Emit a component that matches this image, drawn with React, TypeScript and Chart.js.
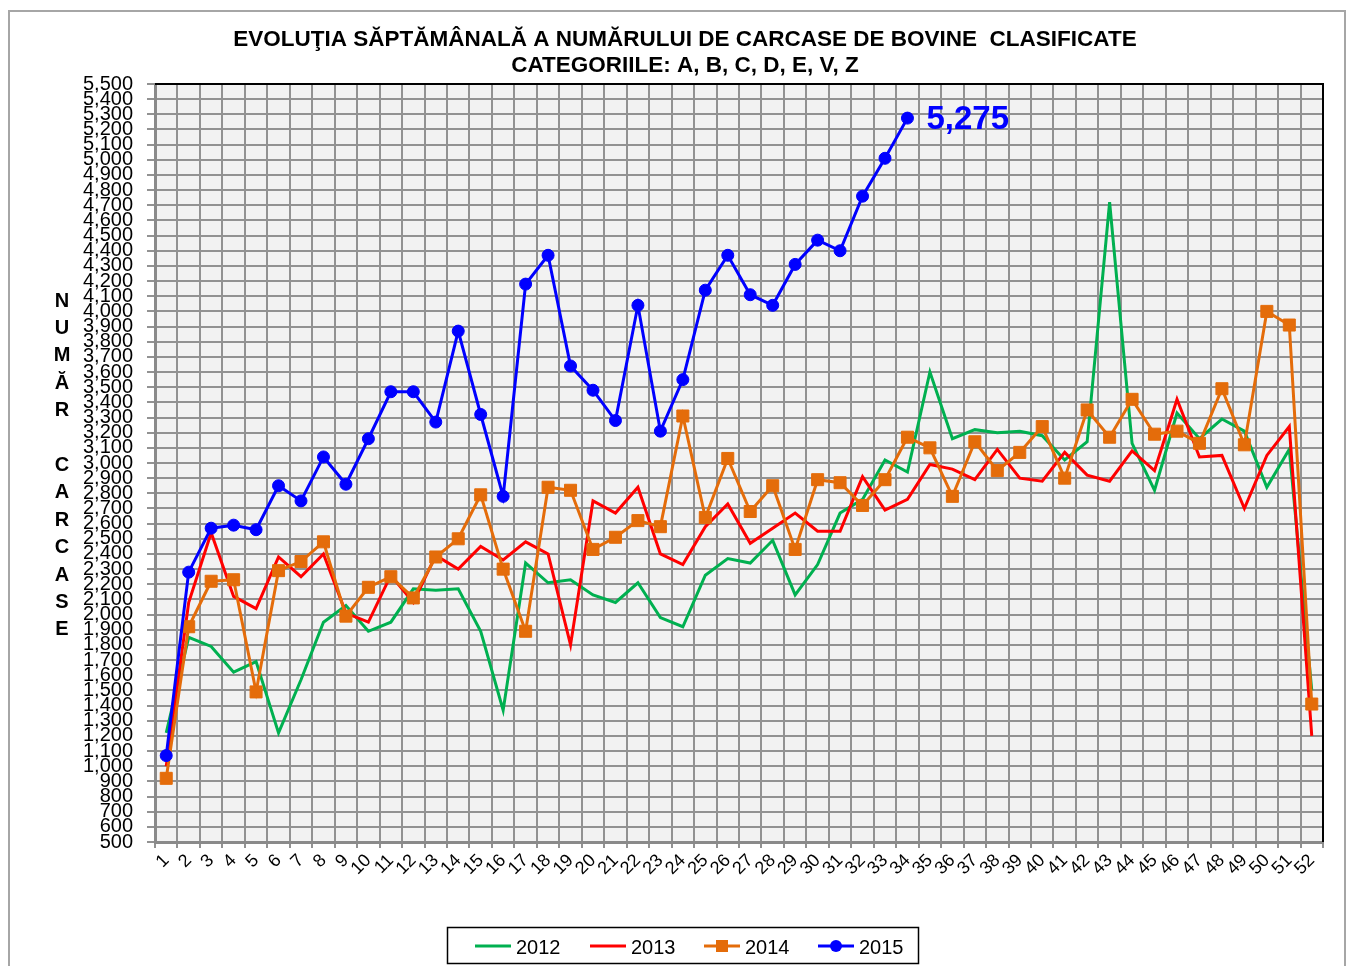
import React, { useEffect, useRef } from 'react';
import { Chart, registerables } from 'chart.js';

Chart.register(...registerables);

const weeks = ['1','2','3','4','5','6','7','8','9','10','11','12','13','14','15','16','17','18','19','20','21','22','23','24','25','26','27','28','29','30','31','32','33','34','35','36','37','38','39','40','41','42','43','44','45','46','47','48','49','50','51','52'];

const y2012 = [1220, 1850, 1790, 1620, 1690, 1220, 1570, 1950, 2060, 1890, 1950, 2170, 2160, 2170, 1890, 1370, 2340, 2210, 2230, 2130, 2080, 2210, 1980, 1920, 2260, 2370, 2340, 2490, 2130, 2330, 2670, 2760, 3020, 2940, 3600, 3160, 3220, 3200, 3210, 3180, 3020, 3140, 4720, 3130, 2820, 3330, 3160, 3290, 3210, 2840, 3090, 1500];

const y2013 = [1000, 2080, 2540, 2120, 2040, 2380, 2250, 2400, 2010, 1950, 2260, 2080, 2390, 2300, 2450, 2360, 2480, 2400, 1800, 2750, 2670, 2840, 2400, 2330, 2580, 2730, 2470, 2570, 2670, 2550, 2550, 2910, 2690, 2760, 2990, 2960, 2890, 3090, 2900, 2880, 3070, 2920, 2880, 3080, 2950, 3420, 3040, 3050, 2700, 3050, 3240, 1200];

const y2014 = [920, 1920, 2220, 2230, 1490, 2290, 2350, 2480, 1990, 2180, 2250, 2110, 2380, 2500, 2790, 2300, 1890, 2840, 2820, 2430, 2510, 2620, 2580, 3310, 2640, 3030, 2680, 2850, 2430, 2890, 2870, 2720, 2890, 3170, 3100, 2780, 3140, 2950, 3070, 3240, 2900, 3350, 3170, 3420, 3190, 3210, 3130, 3490, 3120, 4000, 3910, 1410];

const y2015 = [1070, 2280, 2570, 2590, 2560, 2850, 2750, 3040, 2860, 3160, 3470, 3470, 3270, 3870, 3320, 2780, 4180, 4370, 3640, 3480, 3280, 4040, 3210, 3550, 4140, 4370, 4110, 4040, 4310, 4470, 4400, 4760, 5010, 5275];

const seriesNames = ['2012', '2013', '2014', '2015'];
const seriesColors = ['#00B050', '#FF0000', '#E46C0A', '#0000FF'];

const titleLines = ['EVOLUŢIA SĂPTĂMÂNALĂ A NUMĂRULUI DE CARCASE DE BOVINE  CLASIFICATE', 'CATEGORIILE: A, B, C, D, E, V, Z'];
const yAxisLetters = ['N', 'U', 'M', 'Ă', 'R', '', 'C', 'A', 'R', 'C', 'A', 'S', 'E'];
const lastLabel = '5,275';

const FONT = '"Liberation Sans", Arial, sans-serif';

const decorPlugin = {
  id: 'decor',
  beforeDraw(chart: any) {
    const { ctx, chartArea } = chart;
    const { left, top, right, bottom } = chartArea;
    ctx.save();
    ctx.fillStyle = '#ffffff';
    ctx.fillRect(0, 0, chart.width, chart.height);
    ctx.strokeStyle = '#a6a6a6';
    ctx.lineWidth = 2;
    ctx.strokeRect(9, 11, 1336, 1000);
    ctx.fillStyle = '#f2f2f2';
    ctx.fillRect(left, top, right - left, bottom - top);
    ctx.restore();
  },
  afterDraw(chart: any) {
    const { ctx, chartArea } = chart;
    const { left, top, right, bottom } = chartArea;
    ctx.save();
    // top & right border
    ctx.strokeStyle = '#000000';
    ctx.lineWidth = 2;
    ctx.beginPath();
    ctx.moveTo(left, top);
    ctx.lineTo(right, top);
    ctx.lineTo(right, bottom);
    ctx.stroke();

    // title
    ctx.fillStyle = '#000000';
    ctx.font = `bold 22.5px ${FONT}`;
    ctx.textAlign = 'center';
    ctx.textBaseline = 'middle';
    ctx.fillText(titleLines[0], 685, 40);
    ctx.fillText(titleLines[1], 685, 66);

    // vertical axis title
    ctx.font = `bold 20px ${FONT}`;
    yAxisLetters.forEach((ch, i) => {
      if (ch) ctx.fillText(ch, 62, 301 + i * 27.4);
    });

    // last value label
    const meta = chart.getDatasetMeta(3);
    const pt = meta.data[y2015.length - 1];
    if (pt) {
      ctx.fillStyle = '#0000FF';
      ctx.font = `bold 33px ${FONT}`;
      ctx.textAlign = 'left';
      ctx.fillText(lastLabel, pt.x + 19, pt.y + 2);
    }

    // legend
    ctx.fillStyle = '#ffffff';
    ctx.fillRect(447, 927, 471, 36);
    ctx.strokeStyle = '#000000';
    ctx.lineWidth = 1.5;
    ctx.strokeRect(447.5, 927.5, 471, 36);
    const xs = [475, 590, 704, 818];
    const ly = 946;
    seriesNames.forEach((name, i) => {
      const x0 = xs[i];
      ctx.strokeStyle = seriesColors[i];
      ctx.lineWidth = 3;
      ctx.beginPath();
      ctx.moveTo(x0, ly);
      ctx.lineTo(x0 + 36, ly);
      ctx.stroke();
      ctx.fillStyle = seriesColors[i];
      if (i === 2) {
        ctx.fillRect(x0 + 12, ly - 6, 12, 12);
      } else if (i === 3) {
        ctx.beginPath();
        ctx.arc(x0 + 18, ly, 6, 0, Math.PI * 2);
        ctx.fill();
      }
      ctx.fillStyle = '#000000';
      ctx.font = `20px ${FONT}`;
      ctx.textAlign = 'left';
      ctx.textBaseline = 'middle';
      ctx.fillText(name, x0 + 41, ly + 2);
    });
    ctx.restore();
  },
};

export default function App() {
  const ref = useRef<HTMLCanvasElement | null>(null);

  useEffect(() => {
    if (!ref.current) return;
    const chart = new Chart(ref.current, {
      type: 'line',
      data: {
        labels: weeks,
        datasets: [
          {
            label: seriesNames[0],
            data: y2012,
            borderColor: seriesColors[0],
            backgroundColor: seriesColors[0],
            borderWidth: 3,
            pointRadius: 0,
            tension: 0,
            order: 4,
          },
          {
            label: seriesNames[1],
            data: y2013,
            borderColor: seriesColors[1],
            backgroundColor: seriesColors[1],
            borderWidth: 3,
            pointRadius: 0,
            tension: 0,
            order: 3,
          },
          {
            label: seriesNames[2],
            data: y2014,
            borderColor: seriesColors[2],
            backgroundColor: seriesColors[2],
            borderWidth: 3,
            pointStyle: 'rect',
            pointRadius: 8.5,
            pointBorderWidth: 1,
            tension: 0,
            order: 2,
          },
          {
            label: seriesNames[3],
            data: y2015,
            borderColor: seriesColors[3],
            backgroundColor: seriesColors[3],
            borderWidth: 3,
            pointStyle: 'circle',
            pointRadius: 6,
            pointBorderWidth: 1,
            tension: 0,
            order: 1,
          },
        ],
      },
      options: {
        responsive: false,
        animation: false,
        devicePixelRatio: 1,
        layout: { padding: { top: 84, right: 27, left: 0, bottom: 0 } },
        plugins: {
          legend: { display: false },
          title: { display: false },
          tooltip: { enabled: false },
        },
        scales: {
          x: {
            type: 'category',
            offset: true,
            afterFit: (scale: any) => {
              scale.height = 124;
            },
            grid: {
              offset: true,
              color: '#929292',
              lineWidth: 2,
              tickLength: 6,
              tickColor: '#929292',
            },
            border: { color: '#8a8a8a', width: 3 },
            ticks: {
              autoSkip: false,
              maxRotation: 45,
              minRotation: 45,
              padding: 2,
              color: '#000000',
              font: { family: FONT, size: 18 },
            },
          },
          y: {
            type: 'linear',
            min: 500,
            max: 5500,
            afterFit: (scale: any) => {
              scale.width = 155;
            },
            grid: {
              color: '#929292',
              lineWidth: 2,
              tickLength: 8,
              tickColor: '#929292',
            },
            border: { color: '#8a8a8a', width: 3 },
            ticks: {
              stepSize: 100,
              autoSkip: false,
              padding: 14,
              color: '#000000',
              font: { family: FONT, size: 20 },
              callback: (v: any) => Number(v).toLocaleString('en-US'),
            },
          },
        },
      },
      plugins: [decorPlugin],
    });
    return () => chart.destroy();
  }, []);

  return (
    <div style={{ position: 'absolute', left: 0, top: 0, width: 1350, height: 966 }}>
      <canvas ref={ref} width={1350} height={966} style={{ display: 'block' }} />
    </div>
  );
}
